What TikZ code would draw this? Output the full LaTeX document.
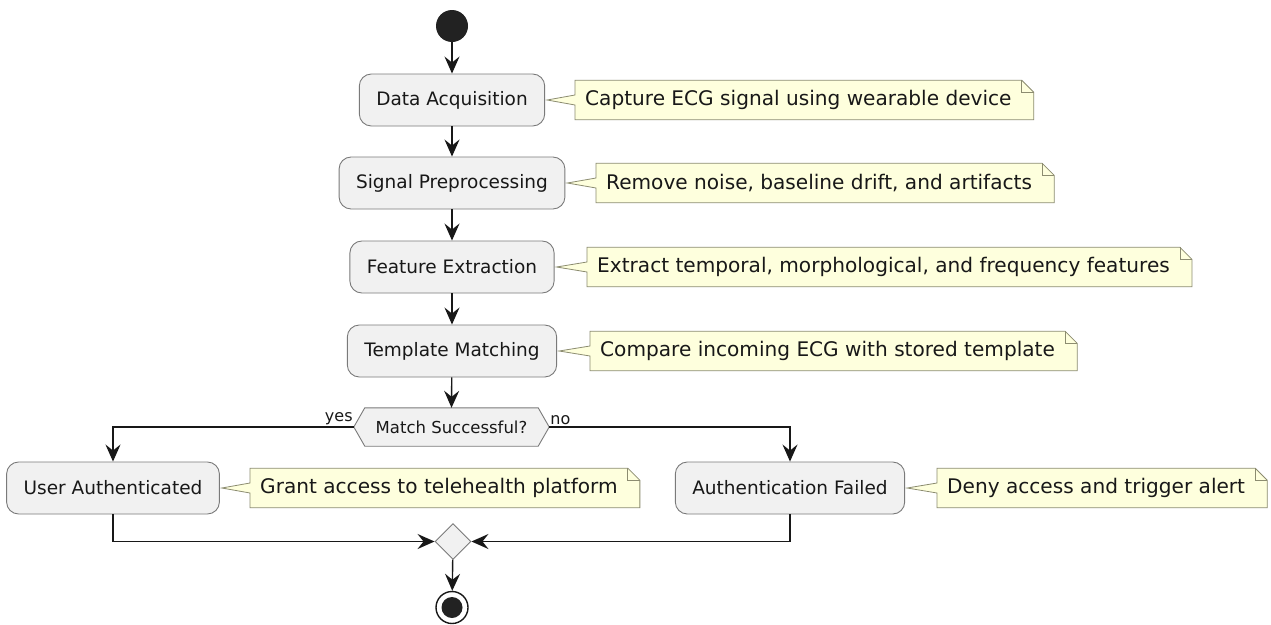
\documentclass[tikz,border=0pt]{standalone}
\usepackage{fontspec}
\setmainfont{DejaVu Sans}
\usetikzlibrary{arrows.meta,shapes.geometric}
\definecolor{linec}{HTML}{181818}
\definecolor{boxfill}{HTML}{F1F1F1}
\definecolor{boxline}{HTML}{7A7A7A}
\definecolor{notefill}{HTML}{FEFFDD}
\definecolor{noteline}{HTML}{8C8C70}
\definecolor{startc}{HTML}{222222}
\pgfdeclarelayer{background}
\pgfsetlayers{background,main}
\newcommand\drawnote[2]{%
  \begin{pgfonlayer}{background}
  \draw[notebox] ([xshift=-10pt]#1.north west) -- ([xshift=10pt]#1.north east)
    -- ([xshift=22pt,yshift=-12pt]#1.north east) -- ([xshift=22pt]#1.south east)
    -- ([xshift=-10pt]#1.south west) -- ([xshift=-10pt,yshift=-5pt]#1.west)
    -- ([xshift=2pt]#2.east) -- ([xshift=-10pt,yshift=5pt]#1.west) -- cycle;
  \draw[notebox,fill=none] ([xshift=10pt]#1.north east) -- ([xshift=10pt,yshift=-12pt]#1.north east)
    -- ([xshift=22pt,yshift=-12pt]#1.north east);
  \end{pgfonlayer}
}
\tikzset{
  act/.style={draw=boxline, fill=boxfill, line width=0.9pt, rounded corners=12pt,
    minimum height=52pt, inner xsep=17pt, inner ysep=0pt, text=linec,
    font=\fontsize{18.5pt}{22pt}\selectfont},
  notetext/.style={anchor=west, inner xsep=0pt, inner ysep=0pt, minimum height=39pt,
    text=linec, font=\fontsize{20.1pt}{24pt}\selectfont},
  notebox/.style={draw=noteline, fill=notefill, line width=0.8pt},
  flow/.style={draw=linec, line width=1.4pt,
    -{Stealth[length=17pt,width=15pt,inset=6pt]}},
  lbl/.style={text=linec, font=\fontsize{16pt}{18pt}\selectfont, inner sep=0pt},
}
\begin{document}
\begin{tikzpicture}[x=1pt,y=-1pt]
\begin{pgfonlayer}{background}
\fill[white] (0,0) rectangle (1271,624);
\end{pgfonlayer}
\useasboundingbox (0,0) rectangle (1271,624);
% start
\node[circle, fill=startc, minimum size=32pt, inner sep=0pt] (start) at (452,26) {};
% activities
\node[act] (da) at (452,100) {Data Acquisition};
\node[act] (sp) at (452,183) {Signal Preprocessing};
\node[act] (fe) at (452,267) {Feature Extraction};
\node[act] (tm) at (452,351) {Template Matching};
\node[act] (ua) at (113,488) {User Authenticated};
\node[act] (af) at (790,488) {Authentication Failed};
% decision
\node[minimum width=195pt, minimum height=38pt, inner sep=0pt, text=linec,
  font=\fontsize{16.5pt}{19pt}\selectfont] (dec) at (451.5,427) {Match Successful?};
\begin{pgfonlayer}{background}
\draw[draw=boxline, fill=boxfill, line width=0.9pt]
  ([xshift=11pt]dec.north west) -- ([xshift=-11pt]dec.north east) -- (dec.east)
  -- ([xshift=-11pt]dec.south east) -- ([xshift=11pt]dec.south west) -- (dec.west) -- cycle;
\end{pgfonlayer}
% merge
\node[diamond, draw=boxline, fill=boxfill, line width=0.9pt, minimum width=36pt,
  minimum height=36pt, inner sep=0pt] (merge) at (453,541.5) {};
% end
\node[circle, draw=linec, fill=white, line width=1.4pt, minimum size=32pt, inner sep=0pt] (stop) at (452,607.5) {};
\node[circle, fill=startc, minimum size=21pt, inner sep=0pt] (stopin) at (stop) {};
% notes
\node[notetext] (n1) at (585,100) {Capture ECG signal using wearable device};
\node[notetext] (n2) at (606,183) {Remove noise, baseline drift, and artifacts};
\node[notetext] (n3) at (597,267) {Extract temporal, morphological, and frequency features};
\node[notetext] (n4) at (600,351) {Compare incoming ECG with stored template};
\node[notetext] (n5) at (260,488) {Grant access to telehealth platform};
\node[notetext] (n6) at (947,488) {Deny access and trigger alert};
\drawnote{n1}{da}
\drawnote{n2}{sp}
\drawnote{n3}{fe}
\drawnote{n4}{tm}
\drawnote{n5}{ua}
\drawnote{n6}{af}
% connectors
\draw[flow] (start) -- (da);
\draw[flow] (da) -- (sp);
\draw[flow] (sp) -- (fe);
\draw[flow] (fe) -- (tm);
\draw[flow] (tm) -- (dec.north);
\draw[flow] (dec.west) -| (ua.north);
\draw[flow] (dec.east) -| (af.north);
\draw[flow] (ua.south) |- (merge.west);
\draw[flow] (af.south) |- (merge.east);
\draw[flow] (merge) -- (stop);
\node[lbl, anchor=south east] (yes) at ([xshift=-1pt,yshift=2pt]dec.west) {yes};
\node[lbl, anchor=south west] (no) at ([xshift=1pt,yshift=2pt]dec.east) {no};
\end{tikzpicture}
\end{document}
